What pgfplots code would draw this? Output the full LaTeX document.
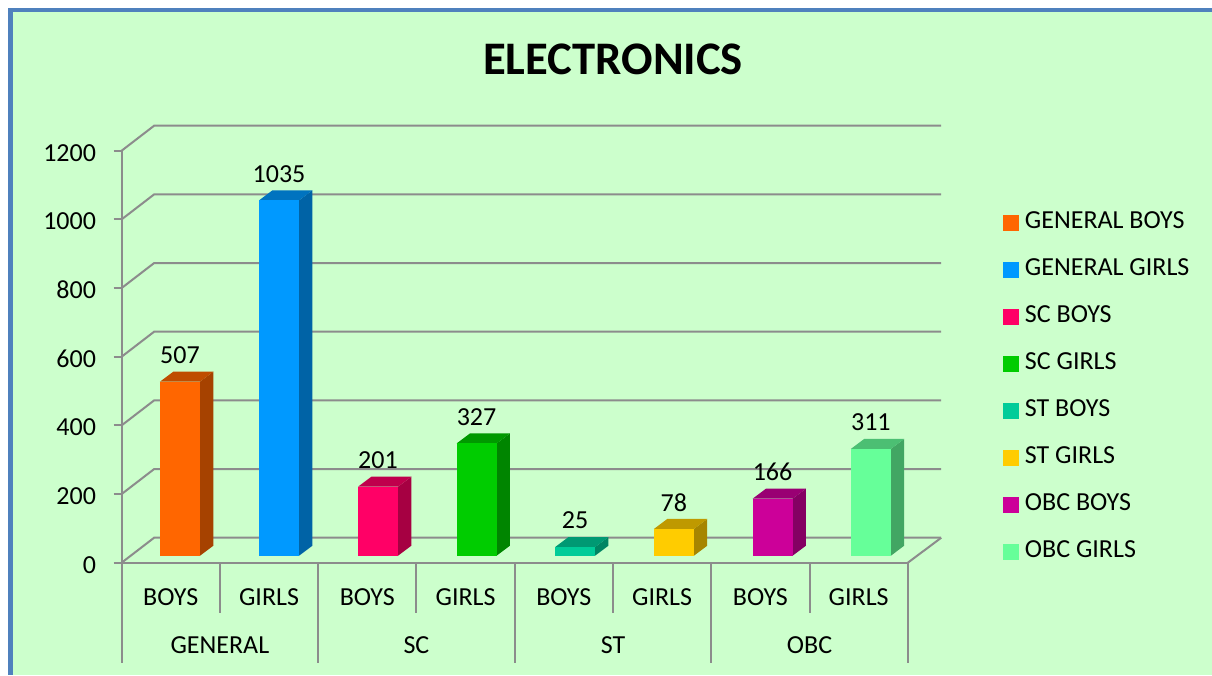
\documentclass[border=0pt]{standalone}
\usepackage{pgfplots}
\usepackage{fontspec}
\pgfplotsset{compat=1.18}
\setmainfont{Carlito}
\newcommand{\lbl}{\fontsize{19.5pt}{23pt}\selectfont}
\definecolor{bgg}{HTML}{CCFFCC}
\definecolor{frameb}{HTML}{4F81BD}
\definecolor{gridg}{HTML}{8C8C8C}
\definecolor{cA}{HTML}{FF6600}
\definecolor{cB}{HTML}{0099FF}
\definecolor{cC}{HTML}{FF0066}
\definecolor{cD}{HTML}{00CC00}
\definecolor{cE}{HTML}{00CC99}
\definecolor{cF}{HTML}{FFCC00}
\definecolor{cG}{HTML}{CC0099}
\definecolor{cH}{HTML}{66FF99}
% one 3-D bar: x centre, value, colour
\newcommand{\threedbar}[3]{%
  \pgfmathsetmacro{\xa}{#1-0.2035}%
  \pgfmathsetmacro{\xb}{#1+0.2035}%
  \pgfmathsetmacro{\xc}{#1+0.3389}%
  \pgfmathsetmacro{\xd}{#1-0.0681}%
  \pgfmathsetmacro{\vt}{#2+29.1}%
  \addplot[forget plot,fill=#3!65!black,draw=none,yshift=5.25pt] coordinates {(\xb,0) (\xc,29.1) (\xc,\vt) (\xb,#2)} --cycle;
  \addplot[forget plot,fill=#3!75!black,draw=none,yshift=5.25pt] coordinates {(\xa,#2) (\xb,#2) (\xc,\vt) (\xd,\vt)} --cycle;
  \addplot[forget plot,ybar,bar width=30pt,bar shift=0pt,fill=#3,draw=none,yshift=5.25pt,
    nodes near coords,
    every node near coord/.append style={font=\lbl,text=black,anchor=center,inner sep=0pt,yshift=20pt}]
    coordinates {(#1,#2)};
}
\newcommand{\backgrid}[2]{%
  \addplot[forget plot,gridg,line width=1.5pt] coordinates {(0,#1) (0.3307,#2) (8.34,#2)};
}
\begin{document}
\begin{tikzpicture}
\fill[white] (0pt,0pt) rectangle (909pt,506.25pt);
\fill[bgg] (7.5pt,0pt) rectangle (909pt,498.75pt);
\fill[frameb] (5.8pt,0pt) rectangle (9.4pt,500.25pt);
\fill[frameb] (5.8pt,497.6pt) rectangle (909pt,500.25pt);
\begin{axis}[
  at={(91.2pt,84.2pt)},anchor=origin,
  scale only axis,width=589.65pt,height=309pt,
  xmin=0,xmax=8,ymin=0,ymax=1200,
  clip=false,
  axis x line*=bottom,axis y line*=left,
  axis line style={gridg,line width=1.5pt,-},
  ytick={0,200,...,1200},
  xtick={0.5,1.5,...,7.5},
  xticklabels={BOYS,GIRLS,BOYS,GIRLS,BOYS,GIRLS,BOYS,GIRLS},
  x tick style={draw=none},
  y tick style={gridg,line width=1.5pt},
  tick align=outside,
  major tick length=6pt,
  minor tick num=0,
  tick label style={font=\lbl,text=black},
  x tick label style={anchor=center,yshift=-19.5pt,inner sep=0pt},
  y tick label style={anchor=east,xshift=-13pt,yshift=-1.5pt,inner sep=0pt},
  /pgf/number format/assume math mode=true,
  /pgf/number format/1000 sep={},
  legend image code/.code={\fill[#1] (0pt,-5.6pt) rectangle (11.25pt,5.6pt);},
  legend cell align=left,
  legend style={at={(axis cs:8.97,1020)},anchor=north west,draw=none,fill=none,
    font=\lbl,inner sep=0pt,row sep=20.25pt,column sep=4.5pt,
    nodes={inner sep=0pt,text height=12pt,text depth=3pt}},
]
\backgrid{0}{72.8}
\backgrid{200}{272.8}
\backgrid{400}{472.8}
\backgrid{600}{672.8}
\backgrid{800}{872.8}
\backgrid{1000}{1072.8}
\backgrid{1200}{1272.8}
\addplot[forget plot,gridg,line width=1.5pt] coordinates {(8,0) (8.34,72.8)};
% separators of the two-level category axis
\addplot[forget plot,gridg,line width=1.5pt] coordinates {(1,0) (1,-145.6)};
\addplot[forget plot,gridg,line width=1.5pt] coordinates {(3,0) (3,-145.6)};
\addplot[forget plot,gridg,line width=1.5pt] coordinates {(5,0) (5,-145.6)};
\addplot[forget plot,gridg,line width=1.5pt] coordinates {(7,0) (7,-145.6)};
\addplot[forget plot,gridg,line width=1.5pt] coordinates {(0,0) (0,-291)};
\addplot[forget plot,gridg,line width=1.5pt] coordinates {(2,0) (2,-291)};
\addplot[forget plot,gridg,line width=1.5pt] coordinates {(4,0) (4,-291)};
\addplot[forget plot,gridg,line width=1.5pt] coordinates {(6,0) (6,-291)};
\addplot[forget plot,gridg,line width=1.5pt] coordinates {(8,0) (8,-291)};
\threedbar{0.594}{507}{cA}
\threedbar{1.602}{1035}{cB}
\threedbar{2.609}{201}{cC}
\threedbar{3.612}{327}{cD}
\threedbar{4.614}{25}{cE}
\threedbar{5.620}{78}{cF}
\threedbar{6.624}{166}{cG}
\threedbar{7.624}{311}{cH}
\addlegendimage{cA}\addlegendentry{GENERAL BOYS}
\addlegendimage{cB}\addlegendentry{GENERAL GIRLS}
\addlegendimage{cC}\addlegendentry{SC BOYS}
\addlegendimage{cD}\addlegendentry{SC GIRLS}
\addlegendimage{cE}\addlegendentry{ST BOYS}
\addlegendimage{cF}\addlegendentry{ST GIRLS}
\addlegendimage{cG}\addlegendentry{OBC BOYS}
\addlegendimage{cH}\addlegendentry{OBC GIRLS}
\node[font=\lbl] at (axis cs:1,-240) {GENERAL};
\node[font=\lbl] at (axis cs:3,-240) {SC};
\node[font=\lbl] at (axis cs:5,-240) {ST};
\node[font=\lbl] at (axis cs:7,-240) {OBC};
\end{axis}
\node[font=\fontsize{35pt}{42pt}\selectfont\bfseries] at (459.75pt,462pt) {ELECTRONICS};
\end{tikzpicture}
\end{document}
